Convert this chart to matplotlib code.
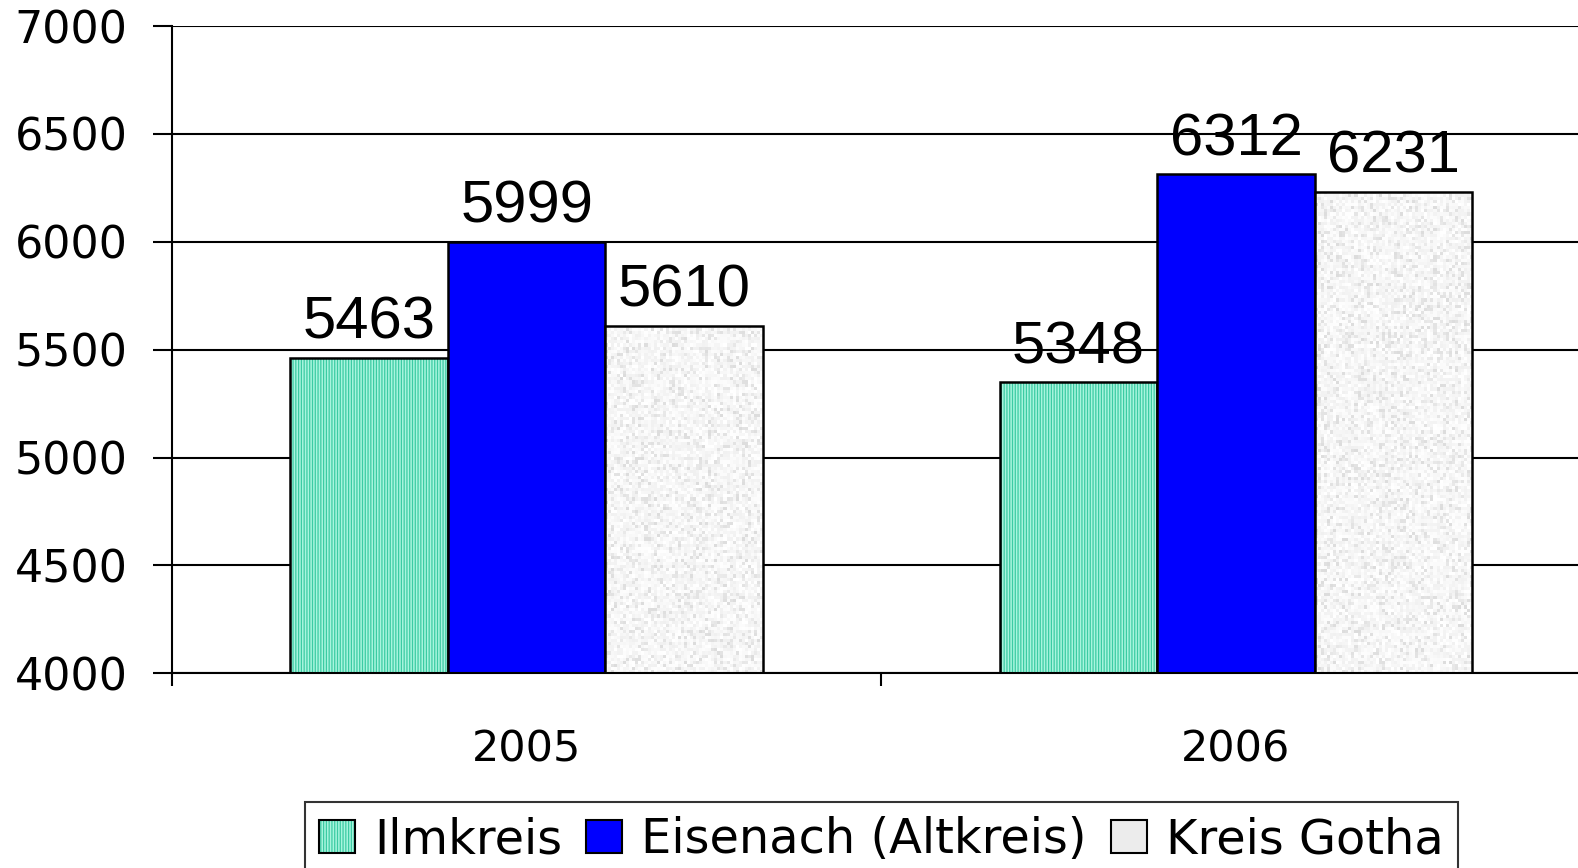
import numpy as np
import matplotlib
matplotlib.use('Agg')
import matplotlib.pyplot as plt
from matplotlib.patches import Patch

# Values
years = ['2005', '2006']
series_names = ['Ilmkreis', 'Eisenach (Altkreis)', 'Kreis Gotha']
ilmkreis = [5463, 5348]
eisenach = [5999, 6312]
gotha = [5610, 6231]
y_ticks = [4000, 4500, 5000, 5500, 6000, 6500, 7000]

plt.rcParams['hatch.linewidth'] = 0.9

fig = plt.figure(figsize=(15.78, 8.68), dpi=100)
ax = fig.add_axes([0.109, 0.2243, 0.899, 0.7457])

x = np.arange(len(years)) + 0.5
w = 0.222
offsets = [-w, 0, w]

mint = '#a8f5de'
mint_line = '#3ccba3'

# Grid lines behind the bars
ax.set_axisbelow(True)
ax.yaxis.grid(True, color='black', linewidth=1.5)

# Ilmkreis: mint with vertical stripes
ax.bar(x + offsets[0], [v - 4000 for v in ilmkreis], w, bottom=4000,
       facecolor=mint, edgecolor=mint_line, hatch='||||||', linewidth=0)
ax.bar(x + offsets[0], [v - 4000 for v in ilmkreis], w, bottom=4000,
       facecolor='none', edgecolor='black', linewidth=1.8)

# Eisenach: solid blue
ax.bar(x + offsets[1], [v - 4000 for v in eisenach], w, bottom=4000,
       facecolor='#0000ff', edgecolor='black', linewidth=1.8)

# Kreis Gotha: grey speckle texture
got_bars = ax.bar(x + offsets[2], [v - 4000 for v in gotha], w, bottom=4000,
                  facecolor='#ececec', edgecolor='black', linewidth=1.8, zorder=3)
rng = np.random.default_rng(3)
for b in got_bars:
    ny = int(b.get_height() / 3000 * 210) + 1
    tex = 0.94 + 0.06 * rng.random((ny, 52)) - 0.08 * (rng.random((ny, 52)) > 0.82)
    im = ax.imshow(tex, cmap='gray', vmin=0, vmax=1, interpolation='nearest', aspect='auto',
                   extent=(b.get_x(), b.get_x() + b.get_width(), b.get_y(), b.get_y() + b.get_height()),
                   zorder=2.5)
    im.set_clip_path(b)
    b.set_facecolor('none')

# Value labels
for vals, off in zip([ilmkreis, eisenach, gotha], offsets):
    for xi, v in zip(x, vals):
        ax.annotate(str(v), (xi + off, v), xytext=(0, 14), textcoords='offset points',
                    ha='center', va='baseline', fontsize=43, family='Liberation Sans')

ax.set_xlim(0, 2)
ax.set_ylim(4000, 7000)
ax.set_yticks(y_ticks)
ax.set_yticklabels([str(t) for t in y_ticks], fontsize=32)
ax.tick_params(axis='y', length=14, width=1.5, pad=18)

ax.set_xticks(x)
ax.set_xticklabels(years, fontsize=31)
ax.tick_params(axis='x', which='major', length=0, pad=40)
ax.set_xticks([0, 1, 2], minor=True)
ax.tick_params(axis='x', which='minor', length=9, width=1.5)

for s in ['top', 'right']:
    ax.spines[s].set_visible(False)
for s in ['left', 'bottom']:
    ax.spines[s].set_linewidth(1.5)

handles = [
    (Patch(facecolor=mint, edgecolor=mint_line, hatch='||||||', linewidth=0),
     Patch(facecolor='none', edgecolor='black', linewidth=1.5)),
    Patch(facecolor='#0000ff', edgecolor='black', linewidth=1.5),
    Patch(facecolor='#ececec', edgecolor='black', linewidth=1.5),
]
leg = ax.legend(handles, series_names, loc='upper center', bbox_to_anchor=(0.5, -0.199),
                ncol=3, fontsize=34.5, frameon=True, fancybox=False, borderaxespad=0,
                handlelength=0.75, handleheight=0.7, handletextpad=0.4, columnspacing=0.5,
                borderpad=0.3)
leg.get_frame().set_edgecolor('black')
leg.get_frame().set_linewidth(1.5)

fig.savefig('out.png', dpi=100)
